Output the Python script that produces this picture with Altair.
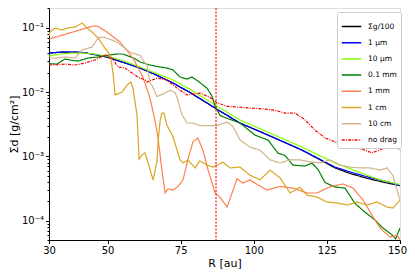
import altair as alt
import pandas as pd

# ---- data ----
SERIES = ["Σg/100", "1 µm", "10 µm", "0.1 mm", "1 mm", "1 cm", "10 cm", "no drag"]
COLORS = ["#000000", "#0000ff", "#7fff00", "#008000", "#ff7f50", "#daa520", "#d2b48c", "#ff0000"]

R_gas = [30, 34, 38.2, 42, 46, 49.8, 55, 61.1, 66, 72.4, 78.5, 84.0, 87.4, 95.3, 104.9, 116.5, 127.8, 133, 139.1, 145, 150]
S_gas = [0.0404, 0.0416, 0.0419, 0.041, 0.038, 0.0350, 0.0293, 0.0236, 0.019, 0.0138, 0.00965, 0.00675, 0.0054,
         0.00329, 0.00214, 0.00125, 0.00066, 0.00054, 0.00045, 0.00039, 0.00035]

R_1um = [30, 34, 38.2, 42, 46, 49.8, 55, 61.1, 66, 72.4, 78.5, 84.0, 87.4, 95.3, 104.9, 116.5, 127.8, 133, 139.1, 145, 150]
S_1um = [0.0404, 0.0416, 0.0419, 0.041, 0.038, 0.0350, 0.0293, 0.0236, 0.019, 0.0138, 0.00965, 0.00675, 0.0054,
         0.00329, 0.00214, 0.00125, 0.00068, 0.00057, 0.000476, 0.00041, 0.00035]

R_10um = [30, 34, 38, 44, 50, 55, 61.1, 66, 72.4, 78.5, 84, 95.3, 104.9, 116.5, 127.8, 139.1, 144, 149.3, 150]
S_10um = [0.0363, 0.039, 0.0404, 0.040, 0.036, 0.031, 0.0245, 0.020, 0.0154, 0.0108, 0.0075, 0.00367, 0.00237,
          0.00139, 0.00079, 0.00050, 0.00042, 0.000371, 0.00036]

R_01mm = [30, 32.7, 35.5, 38, 40, 43.3, 46.8, 50.5, 53.2, 55.3, 59.4, 61.1, 64.5, 67.9, 70.3, 72.4, 74.8, 77.2,
          78.9, 80.9, 84.0, 85.7, 86.8, 88.5, 90.9, 95.3, 100.4, 104.9, 108.3, 110.7, 113.4, 117.5, 119.9, 122.0,
          124.4, 127.8, 131.2, 134.6, 138.0, 141.5, 143.8, 147.3, 148.5, 150]
S_01mm = [0.0275, 0.0272, 0.0326, 0.031, 0.0303, 0.0338, 0.0350, 0.0376, 0.0390, 0.0390, 0.0330, 0.0293, 0.0263,
          0.0245, 0.0236, 0.0220, 0.0171, 0.0159, 0.0171, 0.0148, 0.0115, 0.0087, 0.0060, 0.0043, 0.0039, 0.0033,
          0.00214, 0.00179, 0.00112, 0.00103, 0.00073, 0.000706, 0.000787, 0.00062, 0.00039, 0.000333, 0.000321,
          0.000185, 0.000136, 0.000102, 0.0000795, 0.0000597, 0.000052, 0.0000767]

R_1mm = [30, 38.2, 45.0, 46.8, 49.8, 54.3, 58.7, 62.1, 64.5, 66.2, 67.3, 68.6, 69.7, 70.7, 72.4, 74.1, 75.8, 77.5,
         79.2, 80.9, 82.6, 84.4, 86.8, 88.5, 90.9, 92.6, 94.3, 96.3, 98.7, 104.5, 109.0, 113.4, 118.2, 121.6, 125.0,
         127.1, 130.5, 133.9, 137.4, 140.8, 143.2, 146.6, 149.0, 150]
S_1mm = [0.0667, 0.0857, 0.1063, 0.105, 0.0857, 0.0599, 0.0338, 0.0171, 0.0081, 0.00367, 0.00193, 0.00061, 0.000269,
         0.000312, 0.000299, 0.00034, 0.000428, 0.00090, 0.00167, 0.00193, 0.00125, 0.00061, 0.00027, 0.00023,
         0.000163, 0.00027, 0.00045, 0.000384, 0.000428, 0.000299, 0.00034, 0.000321, 0.000269, 0.000269, 0.000321,
         0.000345, 0.000371, 0.000321, 0.000209, 0.000114, 0.0000767, 0.0000556, 0.0000597, 0.0000499]

R_1cm = [30, 30.3, 32.1, 34.4, 36.5, 38.9, 41.3, 43.0, 44.7, 46.8, 49.1, 50.9, 51.9, 52.6, 55.0, 56.7, 58.0, 58.7,
         60.1, 60.8, 61.8, 62.8, 63.8, 65.6, 66.9, 67.3, 68.0, 68.6, 69.3, 70.3, 72.4, 74.8, 75.8, 77.5, 79.9, 81.6,
         84.0, 86.1, 89.5, 91.9, 95.3, 98.7, 102.1, 105.6, 109.0, 112.4, 115.8, 118.2, 121.6, 125.0, 128.5, 131.9,
         135.3, 138.7, 142.1, 145.6, 147.6, 150]
S_1cm = [0.0743, 0.0857, 0.0989, 0.0921, 0.0989, 0.1025, 0.1183, 0.0989, 0.0857, 0.0692, 0.0483, 0.0376, 0.0197,
         0.0090, 0.0100, 0.0129, 0.0143, 0.0115, 0.00439, 0.0009, 0.00105, 0.00113, 0.00081, 0.000428, 0.00082,
         0.0017, 0.0036, 0.0047, 0.0047, 0.00307, 0.00200, 0.00088, 0.00079, 0.00088, 0.00066, 0.00085, 0.00073,
         0.00068, 0.00081, 0.00066, 0.00068, 0.00051, 0.00043, 0.00061, 0.00046, 0.00027, 0.00033, 0.00025,
         0.000233, 0.000195, 0.000188, 0.000175, 0.000195, 0.000175, 0.000195, 0.000163, 0.000157, 0.000209]

R_10cm = [30, 32.1, 35.5, 38.9, 41.3, 44.7, 46.8, 48.5, 51.5, 53.2, 55.0, 57.7, 60.4, 61.1, 62.8, 63.5, 64.5, 65.6,
          66.9, 69.0, 71.4, 73.1, 73.8, 75.5, 77.2, 79.2, 81.6, 84.0, 87.4, 90.9, 92.9, 95.3, 98.7, 102.1, 105.6,
          109.0, 112.4, 115.8, 119.2, 122.6, 126.1, 129.5, 132.9, 136.3, 139.7, 143.2, 145.6, 147.6, 149.0, 150]
S_10cm = [0.0338, 0.0338, 0.0350, 0.0338, 0.045, 0.0501, 0.0692, 0.0717, 0.0644, 0.0599, 0.0519, 0.0419, 0.0376,
          0.0376, 0.0282, 0.0263, 0.0140, 0.0118, 0.0085, 0.0093, 0.0107, 0.0098, 0.0082, 0.0044, 0.0033, 0.0033,
          0.0030, 0.0030, 0.0030, 0.0034, 0.0029, 0.0018, 0.00139, 0.00125, 0.00088, 0.00079, 0.00088, 0.00088,
          0.00082, 0.00079, 0.00088, 0.00073, 0.00068, 0.00066, 0.00066, 0.00061, 0.00066, 0.00050, 0.00030,
          0.000209]

R_nodrag = [30, 31.4, 35.5, 38.9, 42.3, 45.7, 49.1, 51.5, 53.6, 56.0, 58.4, 60.4, 62.8, 63.5, 66.9, 70.3, 73.8,
            77.2, 81.6, 85.0, 87.4, 90.9, 95.3, 99.4, 102.8, 107.3, 110.7, 114.1, 117.5, 120.9, 124.4, 127.8, 131.2,
            134.6, 138.0, 140.4, 143.8, 145.9, 150]
S_nodrag = [0.0263, 0.0263, 0.0272, 0.0263, 0.0282, 0.0315, 0.0376, 0.0338, 0.0245, 0.0236, 0.0197, 0.0171, 0.0154,
            0.0143, 0.0165, 0.0154, 0.0115, 0.0090, 0.0096, 0.0083, 0.0068, 0.0060, 0.0058, 0.0056, 0.0055, 0.0052,
            0.0047, 0.0047, 0.0037, 0.00256, 0.00193, 0.00167, 0.00161, 0.00139, 0.00125, 0.00113, 0.00130, 0.00139,
            0.00130]

VLINE_R = [87.1]
X_TICKS = [30, 50, 75, 100, 125, 150]
Y_DOMAIN = [5.0e-5, 0.2025]
X_DOMAIN = [30, 150]

# ---- build table ----
pairs = [(R_gas, S_gas), (R_1um, S_1um), (R_10um, S_10um), (R_01mm, S_01mm),
         (R_1mm, S_1mm), (R_1cm, S_1cm), (R_10cm, S_10cm), (R_nodrag, S_nodrag)]
rows = []
for name, (rr, ss) in zip(SERIES, pairs):
    for i, (r, s) in enumerate(zip(rr, ss)):
        rows.append({"series": name, "R": r, "S": s, "i": i})
df = pd.DataFrame(rows)

y_vals = []
for k in range(-5, 0):
    for m in range(1, 10):
        v = float(f"{m}e{k}")
        if Y_DOMAIN[0] <= v <= Y_DOMAIN[1]:
            y_vals.append(v)

label_expr = ("datum.value == 0.1 ? '10⁻¹' : datum.value == 0.01 ? '10⁻²' : "
              "datum.value == 0.001 ? '10⁻³' : datum.value == 0.0001 ? '10⁻⁴' : ''")
major_test = "abs(log(datum.value)/LN10 - round(log(datum.value)/LN10)) < 0.001"

FONT = "DejaVu Sans"

x_enc = alt.X("R:Q", scale=alt.Scale(domain=X_DOMAIN, nice=False, zero=False),
              axis=alt.Axis(values=X_TICKS, title="R [au]", tickSize=3.5, labelFontSize=10,
                            titleFontSize=11, labelPadding=2, titlePadding=2, grid=False,
                            labelFlush=False,
                            labelOffset={"condition": {"test": "datum.value == 150", "value": -3},
                                         "value": 0},
                            domainColor="black", tickColor="black", labelColor="black",
                            titleColor="black", titleFontWeight="normal", labelFont=FONT, titleFont=FONT))
y_enc = alt.Y("S:Q", scale=alt.Scale(type="log", domain=Y_DOMAIN, nice=False),
              axis=alt.Axis(values=y_vals, labelExpr=label_expr, title="Σd [g/cm²]",
                            tickSize={"condition": {"test": major_test, "value": 3.5}, "value": 2},
                            labelFontSize=10, titleFontSize=11, labelPadding=2, labelFlush=False,
                            titleX=-35, titleY=116, titleAngle=270, titleAlign="center",
                            titleBaseline="middle",
                            grid=False, domainColor="black", tickColor="black", labelColor="black",
                            titleColor="black", titleFontWeight="normal", labelFont=FONT, titleFont=FONT,
                            labelOverlap=False))

lines = alt.Chart(df).mark_line(strokeWidth=1.2, clip=True).encode(
    x=x_enc,
    y=y_enc,
    order="i:Q",
    color=alt.Color("series:N", scale=alt.Scale(domain=SERIES, range=COLORS),
                    legend=alt.Legend(title=None, orient="none", legendX=288, legendY=4,
                                      symbolType="stroke", symbolSize=380, symbolStrokeWidth=1.5,
                                      labelFontSize=7.5, labelFont=FONT, labelColor="black",
                                      rowPadding=2.2, padding=4, strokeColor="#cccccc",
                                      fillColor="white", cornerRadius=2, labelOffset=6)),
    strokeDash=alt.StrokeDash("series:N",
                              scale=alt.Scale(domain=SERIES,
                                              range=[[1, 0]] * 7 + [[3, 1.2, 1, 1.2]]),
                              legend=None),
)

vline = alt.Chart(pd.DataFrame({"R": VLINE_R})).mark_rule(
    color="#ff0000", strokeDash=[2, 1.5], strokeWidth=1.1).encode(x=alt.X("R:Q"))

chart = alt.layer(lines, vline).properties(
    width=351, height=232,
    autosize=alt.AutoSizeParams(type="none"),
    padding={"left": 41, "top": 0, "right": 7, "bottom": 32},
).configure_view(stroke="black", strokeWidth=1).configure(background="white")

chart.save("out.html", embed_options={"renderer": "svg", "actions": False})
